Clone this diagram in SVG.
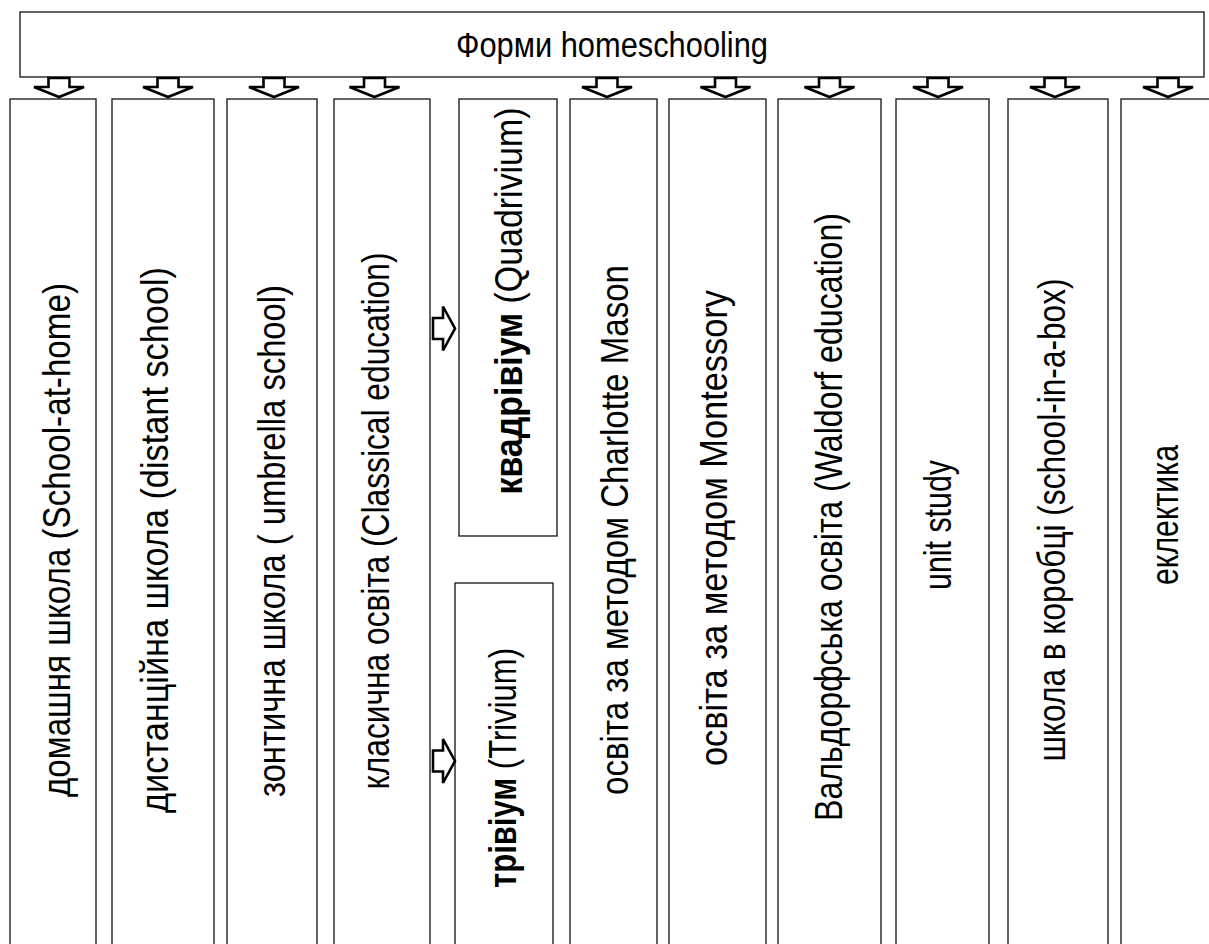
<svg xmlns="http://www.w3.org/2000/svg" width="1209" height="944" viewBox="0 0 1209 944">
<style>
.box{fill:#fff;stroke:#222;stroke-width:1.4}
.t{font-family:"Liberation Sans",Arial,sans-serif;fill:#000;text-anchor:middle}
.v{font-size:38px}
.arr{fill:#fff;stroke:#000;stroke-width:2.6;stroke-linejoin:miter}
</style>
<defs>
<path id="down" d="M-10.5,78 L10.5,78 L10.5,87 L25,87 L0,97 L-25,87 L-10.5,87 Z"/>
<path id="right" d="M0,-10.5 L10,-10.5 L10,-22 L22,0 L10,22 L10,10.5 L0,10.5 Z"/>
</defs>
<rect width="1209" height="944" fill="#fff"/>
<g id="root">
<rect class="box" x="20" y="12" width="1184" height="65"/>
<text class="t" x="612" y="57" font-size="35" textLength="312" lengthAdjust="spacingAndGlyphs">Форми homeschooling</text>
</g>
<g id="n1"><rect class="box" x="10" y="99" width="86" height="870"/>
<text class="t v" transform="translate(70,540) rotate(-90)" textLength="514" lengthAdjust="spacingAndGlyphs">домашня школа (School-at-home)</text></g>
<g id="n2"><rect class="box" x="112" y="99" width="102" height="870"/>
<text class="t v" transform="translate(168,540) rotate(-90)" textLength="546" lengthAdjust="spacingAndGlyphs">дистанційна школа (distant school)</text></g>
<g id="n3"><rect class="box" x="227" y="99" width="90" height="870"/>
<text class="t v" transform="translate(285,541) rotate(-90)" textLength="512" lengthAdjust="spacingAndGlyphs">зонтична школа ( umbrella school)</text></g>
<g id="n4"><rect class="box" x="334" y="99" width="96" height="870"/>
<text class="t v" transform="translate(389,521) rotate(-90)" textLength="537" lengthAdjust="spacingAndGlyphs">класична освіта (Classical education)</text></g>
<g id="n4a"><rect class="box" x="459" y="99" width="98" height="437"/>
<text class="t v" transform="translate(522,301) rotate(-90)" textLength="387" lengthAdjust="spacingAndGlyphs"><tspan font-weight="bold">квадрівіум</tspan> (Quadrivium)</text></g>
<g id="n4b"><rect class="box" x="455" y="583" width="98" height="400"/>
<text class="t v" transform="translate(516,768) rotate(-90)" textLength="240" lengthAdjust="spacingAndGlyphs"><tspan font-weight="bold">трівіум</tspan> (Trivium)</text></g>
<g id="n5"><rect class="box" x="570" y="99" width="87" height="870"/>
<text class="t v" transform="translate(628,530) rotate(-90)" textLength="530" lengthAdjust="spacingAndGlyphs">освіта за методом Charlotte Mason</text></g>
<g id="n6"><rect class="box" x="669" y="99" width="97" height="870"/>
<text class="t v" transform="translate(727,528) rotate(-90)" textLength="476" lengthAdjust="spacingAndGlyphs">освіта за методом Montessory</text></g>
<g id="n7"><rect class="box" x="778" y="99" width="103" height="870"/>
<text class="t v" transform="translate(842,517) rotate(-90)" textLength="608" lengthAdjust="spacingAndGlyphs">Вальдорфська освіта (Waldorf education)</text></g>
<g id="n8"><rect class="box" x="896" y="99" width="93" height="870"/>
<text class="t v" transform="translate(951,525) rotate(-90)" textLength="130" lengthAdjust="spacingAndGlyphs">unit study</text></g>
<g id="n9"><rect class="box" x="1008" y="99" width="100" height="870"/>
<text class="t v" transform="translate(1065,520) rotate(-90)" textLength="483" lengthAdjust="spacingAndGlyphs">школа в коробці (school-in-a-box)</text></g>
<g id="n10"><rect class="box" x="1121" y="99" width="120" height="870"/>
<text class="t v" transform="translate(1178,515) rotate(-90)" textLength="140" lengthAdjust="spacingAndGlyphs">еклектика</text></g>
<g id="connectors">
<use href="#down" class="arr" x="59"/>
<use href="#down" class="arr" x="168"/>
<use href="#down" class="arr" x="274"/>
<use href="#down" class="arr" x="374.5"/>
<use href="#down" class="arr" x="607"/>
<use href="#down" class="arr" x="725.5"/>
<use href="#down" class="arr" x="829.5"/>
<use href="#down" class="arr" x="938"/>
<use href="#down" class="arr" x="1055"/>
<use href="#down" class="arr" x="1168"/>
<use href="#right" class="arr" x="433" y="328.5"/>
<use href="#right" class="arr" x="433" y="761"/>
</g>
</svg>
